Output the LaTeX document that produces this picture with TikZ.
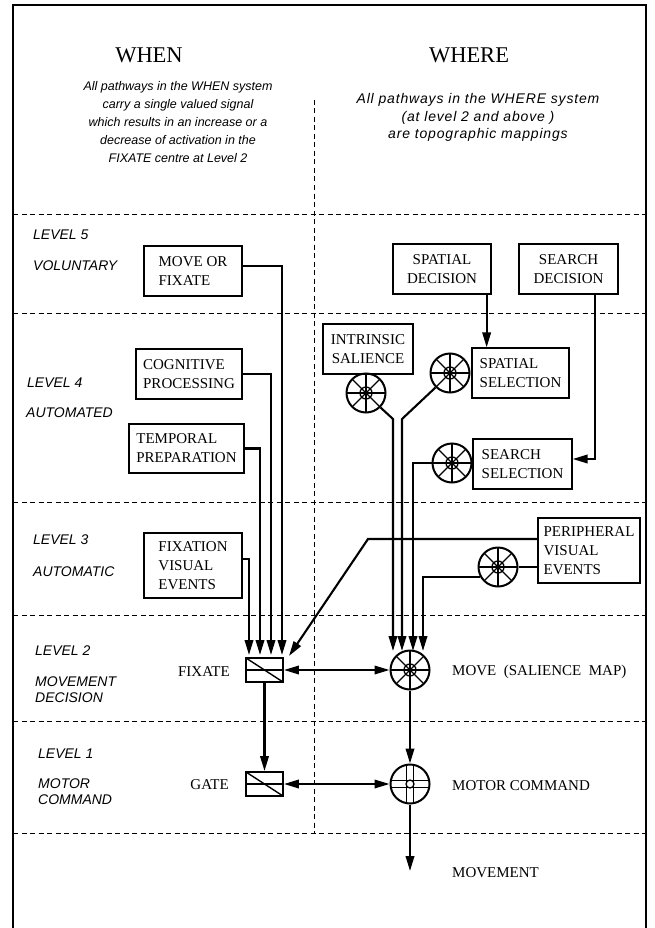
\documentclass[tikz,border=0pt]{standalone}
\usepackage{fontspec}
\setmainfont{Liberation Serif}
\newfontfamily\lblsans{Liberation Sans}
\newfontfamily\wheresans[LetterSpace=6]{Liberation Sans}
\usetikzlibrary{arrows.meta}

\begin{document}
\begin{tikzpicture}[x=1pt,y=-1pt,
	box/.style={rectangle, draw, line width=1.3pt, inner sep=0pt, align=left, font={\fontsize{15}{19}\selectfont}},
	lbl/.style={inner sep=0pt, font={\fontsize{15}{19}\selectfont}},
	lvl/.style={anchor=west, inner sep=0pt, align=left, font={\lblsans\itshape\fontsize{14}{16}\selectfont}},
	title/.style={inner sep=0pt, font={\fontsize{22.5}{26}\selectfont}},
	note/.style={inner sep=0pt, align=center, font={\lblsans\itshape\fontsize{12.5}{18}\selectfont}},
	levelline/.style={line width=1pt, dash pattern=on 5pt off 3.5pt},
	conn/.style={line width=2.1pt, -{Triangle[length=15pt,width=8.5pt]}},
	dconn/.style={line width=2pt, {Triangle[length=15pt,width=8.5pt]}-{Triangle[length=15pt,width=8.5pt]}},
	plain/.style={line width=2.1pt},
	wheel/.style={circle, draw, line width=2pt, minimum size=39pt, inner sep=0pt, path picture={
		\foreach \a in {0,45,...,315}
			\draw[line width=1.3pt] (path picture bounding box.center) -- +(\a:21pt);
		\draw[line width=1.3pt] (path picture bounding box.center) circle (6pt);}},
	motorwheel/.style={circle, draw, line width=2pt, minimum size=39pt, inner sep=0pt, path picture={
		\foreach \d in {-3.5pt,3.5pt} {
			\draw[line width=1.3pt] ([xshift=\d]path picture bounding box.north) -- ([xshift=\d]path picture bounding box.south);
			\draw[line width=1.3pt] ([yshift=\d]path picture bounding box.west) -- ([yshift=\d]path picture bounding box.east);
		}
		\draw[line width=1.3pt, fill=white] (path picture bounding box.center) circle (4pt);}},
	gatebox/.style={rectangle, draw, line width=1.9pt, minimum width=37pt, minimum height=24pt, inner sep=0pt, path picture={
		\draw[line width=1.1pt] (path picture bounding box.west) -- (path picture bounding box.east);
		\draw[line width=1.4pt] (path picture bounding box.north west) -- (path picture bounding box.south east);}}]
	\useasboundingbox (0,0) rectangle (655,928);
	\draw[line width=2pt] (13,928) -- (13,5) -- (646,5) -- (646,928);
	\foreach \y in {214,313,502,615,721,833}
		\draw[levelline] (13,\y) -- (646,\y);
	\draw[levelline] (314,100) -- (314,833);

	\node[title] (when) at (149,55) {WHEN};
	\node[title] (where) at (469,55) {WHERE};
	\node[note] (whennote) at (178,122) {All pathways in the WHEN system\\carry a single valued signal\\which results in an increase or a\\decrease of activation in the\\FIXATE centre at Level 2};
	\node[note, font={\wheresans\itshape\fontsize{14}{17.5}\selectfont}] (wherenote) at (478,117.5) {All pathways in the WHERE system\\(at level 2 and above )\\are topographic mappings};

	\node[lvl] (lv5) at (33,235) {LEVEL 5};
	\node[lvl] (vol) at (33,266) {VOLUNTARY};
	\node[lvl] (lv4) at (27,383) {LEVEL 4};
	\node[lvl] (autod) at (26,413) {AUTOMATED};
	\node[lvl] (lv3) at (33,540) {LEVEL 3};
	\node[lvl] (autic) at (33,572) {AUTOMATIC};
	\node[lvl] (lv2) at (35,651) {LEVEL 2};
	\node[lvl] (movdec) at (35,690) {MOVEMENT\\DECISION};
	\node[lvl] (lv1) at (38,754) {LEVEL 1};
	\node[lvl] (motcmd) at (38,792) {MOTOR\\COMMAND};

	\node[box, minimum width=98pt, minimum height=50pt] (movefix) at (193,271) {MOVE OR\\FIXATE};
	\node[box, minimum width=106pt, minimum height=50pt] (cogn) at (189,374) {COGNITIVE\\PROCESSING};
	\node[box, minimum width=115pt, minimum height=49pt] (temp) at (186.5,448.5) {TEMPORAL\\PREPARATION};
	\node[box, minimum width=98pt, minimum height=65pt] (fixev) at (193,565.5) {FIXATION\\VISUAL\\EVENTS};
	\node[box, align=center, minimum width=98pt, minimum height=50pt] (spdec) at (442,269) {SPATIAL\\DECISION};
	\node[box, align=center, minimum width=99pt, minimum height=50pt] (srdec) at (568.5,269) {SEARCH\\DECISION};
	\node[box, align=center, minimum width=90pt, minimum height=50pt] (intr) at (368,349) {INTRINSIC\\SALIENCE};
	\node[box, minimum width=97pt, minimum height=50pt] (spsel) at (520.5,373) {SPATIAL\\SELECTION};
	\node[box, minimum width=99pt, minimum height=50pt] (srsel) at (522.5,464) {SEARCH\\SELECTION};
	\node[box, minimum width=102pt, minimum height=65pt] (per) at (589,550.5) {PERIPHERAL\\VISUAL\\EVENTS};

	\node[gatebox] (fixate) at (264.5,670) {};
	\node[gatebox] (gate) at (264.5,784) {};
	\node[wheel] (move) at (410,670) {};
	\node[motorwheel] (motor) at (410,784) {};
	\node[wheel] (intrw) at (366,393) {};
	\node[wheel] (sprw) at (450,373) {};
	\node[wheel] (srw) at (452,463) {};
	\node[wheel] (perw) at (498,567) {};

	\node[lbl, anchor=east] (fixlbl) at (230,672) {FIXATE};
	\node[lbl, anchor=east] (gatelbl) at (229,785) {GATE};
	\node[lbl, anchor=west] (movelbl) at (452,672) {MOVE\ \ (SALIENCE\ \ MAP)};
	\node[lbl, anchor=west] (motorlbl) at (452,786) {MOTOR COMMAND};
	\node[lbl, anchor=west] (movement) at (452,873) {MOVEMENT};

	\coordinate (f1) at (249,655);
	\coordinate (f2) at (260,655);
	\coordinate (f3) at (271,655);
	\coordinate (f4) at (282,655);
	\coordinate (f5) at (289,656);
	\coordinate (m1) at (393,651);
	\coordinate (m2) at (402,651);
	\coordinate (m3) at (413,651);
	\coordinate (m4) at (423,651);
	\coordinate (bend) at (368,539);
	\coordinate (mvend) at (410,871);

	\draw[conn] ([yshift=5pt]movefix.east) -| (f4);
	\draw[conn] (cogn.east) -| (f3);
	\draw[conn] (temp.east) -| (f2);
	\draw[conn] ([yshift=6.5pt]fixev.east) -| (f1);
	\draw[conn] ([yshift=11.5pt]per.west) -- (bend) -- (f5);
	\draw[conn] ([xshift=-5pt]spdec.south east) -- ([xshift=-5pt]spdec.south east |- spsel.north);
	\draw[conn] ([xshift=26.5pt]srdec.south) |- ([yshift=5pt]srsel.east);
	\draw[plain] (perw.east) -- (perw.east -| per.west);
	\draw[conn] (intrw.-45) -- (m1 |- 0,419) -- (m1);
	\draw[conn] (sprw.-135) -- (m2 |- 0,419) -- (m2);
	\draw[conn] (srw.west) -| (m3);
	\draw[conn] (perw.210) -| (m4);
	\draw[dconn] (fixate.east) -- (move.west);
	\draw[conn] (fixate.south) -- (gate.north);
	\draw[conn] (move.south) -- (motor.north);
	\draw[dconn] (gate.east) -- (motor.west);
	\draw[conn] (motor.south) -- (mvend);
\end{tikzpicture}
\end{document}
